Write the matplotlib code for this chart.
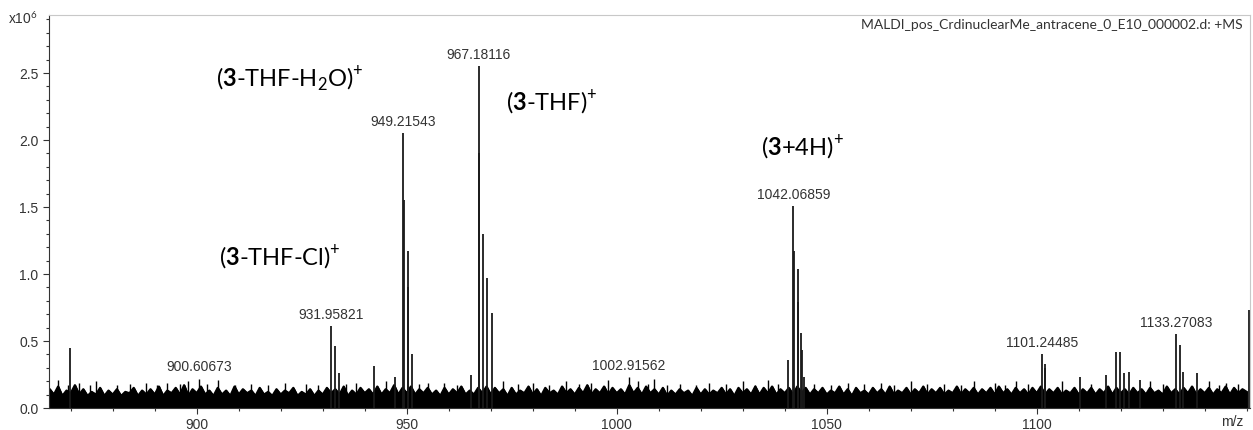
import matplotlib
matplotlib.use("Agg")
import matplotlib.pyplot as plt
from matplotlib.ticker import MultipleLocator
import numpy as np

# peak list (m/z, intensity in 1e6 counts)
peak_mz = [869.8, 931.96, 932.9, 933.8, 942.2, 947.2,
           949.22, 949.45, 950.2, 950.3, 951.2,
           965.4, 967.18, 967.3, 968.2, 969.2, 970.2,
           1040.9, 1042.07, 1042.2, 1043.1, 1043.2, 1044.0, 1044.1, 1044.6,
           1101.24, 1101.9, 1102.1, 1110.3, 1116.5, 1118.8, 1119.8, 1120.8,
           1121.9, 1124.6, 1133.27, 1134.2, 1134.9, 1138.2, 1150.6]
peak_int = [0.45, 0.61, 0.46, 0.26, 0.31, 0.23,
            2.05, 1.55, 1.17, 0.90, 0.40,
            0.25, 2.55, 1.90, 1.30, 0.97, 0.71,
            0.36, 1.51, 1.17, 1.04, 0.79, 0.56, 0.43, 0.23,
            0.40, 0.33, 0.30, 0.23, 0.25, 0.42, 0.42, 0.26,
            0.27, 0.21, 0.55, 0.47, 0.27, 0.26, 0.73]

# small spikes sticking out of the noise
spike_mz = [867, 869.3, 872, 874.5, 876, 881, 884, 888, 890.5, 893, 896, 898,
            900.61, 902.5, 905, 909, 913, 917, 921, 926, 929, 935.5, 938, 945,
            953, 955, 959, 962, 973, 976.5, 980, 984, 988, 991, 994, 998,
            1002.92, 1005, 1007.5, 1009, 1012, 1015, 1019, 1022, 1026, 1030,
            1033, 1036, 1038.5, 1047, 1051, 1055, 1059, 1063, 1066, 1070, 1074,
            1078, 1082, 1085, 1090, 1092.5, 1095, 1098, 1106, 1113, 1127, 1130,
            1141, 1143.5, 1145, 1148]
spike_int = [0.21, 0.17, 0.19, 0.17, 0.20, 0.17, 0.18, 0.19, 0.17, 0.19, 0.18, 0.20,
             0.22, 0.18, 0.21, 0.17, 0.18, 0.17, 0.19, 0.18, 0.17, 0.18, 0.19, 0.20,
             0.18, 0.19, 0.19, 0.17, 0.20, 0.18, 0.19, 0.17, 0.20, 0.18, 0.19, 0.21,
             0.23, 0.20, 0.18, 0.22, 0.17, 0.18, 0.17, 0.19, 0.18, 0.20,
             0.17, 0.21, 0.18, 0.18, 0.17, 0.19, 0.18, 0.19, 0.17, 0.20, 0.18,
             0.18, 0.17, 0.20, 0.19, 0.17, 0.20, 0.18, 0.20, 0.18, 0.20, 0.18,
             0.20, 0.17, 0.19, 0.18]

# noise floor, one value per m/z unit from 865 to 1150
noise_start = 865
noise_int = [
    0.14, 0.10, 0.16, 0.09, 0.13, 0.11, 0.17, 0.10, 0.14, 0.09, 0.12, 0.10, 0.15,
    0.09, 0.13, 0.10, 0.14, 0.09, 0.12, 0.11, 0.15, 0.09, 0.13, 0.10, 0.14, 0.10,
    0.16, 0.09, 0.13, 0.11, 0.15, 0.10, 0.17, 0.09, 0.14, 0.11, 0.16, 0.10, 0.13,
    0.09, 0.15, 0.10, 0.13, 0.09, 0.16, 0.10, 0.14, 0.11, 0.13, 0.09, 0.15, 0.10,
    0.12, 0.09, 0.14, 0.10, 0.13, 0.11, 0.15, 0.09, 0.12, 0.10, 0.14, 0.09, 0.13,
    0.10, 0.15, 0.11, 0.14, 0.10, 0.16, 0.09, 0.13, 0.10, 0.15, 0.11, 0.14, 0.10,
    0.16, 0.10, 0.14, 0.11, 0.17, 0.10, 0.15, 0.11, 0.16, 0.10, 0.14, 0.11, 0.15,
    0.10, 0.13, 0.09, 0.15, 0.10, 0.14, 0.11, 0.16, 0.10, 0.13, 0.10, 0.15, 0.11,
    0.16, 0.10, 0.15, 0.11, 0.14, 0.09, 0.15, 0.10, 0.13, 0.11, 0.16, 0.10, 0.14,
    0.09, 0.15, 0.11, 0.13, 0.10, 0.16, 0.11, 0.14, 0.10, 0.15, 0.11, 0.17, 0.10,
    0.14, 0.11, 0.16, 0.10, 0.15, 0.11, 0.14, 0.10, 0.17, 0.11, 0.15, 0.10, 0.16,
    0.11, 0.14, 0.10, 0.15, 0.09, 0.13, 0.10, 0.14, 0.11, 0.13, 0.09, 0.15, 0.10,
    0.14, 0.10, 0.13, 0.11, 0.15, 0.10, 0.14, 0.09, 0.15, 0.11, 0.14, 0.10, 0.16,
    0.10, 0.15, 0.11, 0.16, 0.10, 0.14, 0.11, 0.15, 0.10, 0.16, 0.11, 0.15, 0.10,
    0.14, 0.11, 0.15, 0.10, 0.13, 0.11, 0.16, 0.10, 0.14, 0.09, 0.15, 0.11, 0.13,
    0.10, 0.15, 0.11, 0.14, 0.10, 0.16, 0.10, 0.13, 0.11, 0.15, 0.10, 0.14, 0.11,
    0.16, 0.10, 0.14, 0.11, 0.15, 0.10, 0.13, 0.11, 0.16, 0.10, 0.14, 0.11, 0.15,
    0.10, 0.14, 0.11, 0.15, 0.10, 0.16, 0.11, 0.14, 0.10, 0.15, 0.11, 0.14, 0.10,
    0.15, 0.11, 0.16, 0.10, 0.14, 0.11, 0.15, 0.10, 0.13, 0.11, 0.15, 0.10, 0.14,
    0.11, 0.15, 0.10, 0.14, 0.11, 0.16, 0.10, 0.15, 0.11, 0.14, 0.10, 0.15, 0.11,
    0.14, 0.10, 0.15, 0.11, 0.13, 0.10, 0.16, 0.11, 0.14, 0.10, 0.15, 0.11, 0.16,
    0.10, 0.14, 0.11, 0.15, 0.10, 0.14, 0.11, 0.16, 0.10, 0.15, 0.11, 0.14, 0.12,
]

# peaks that carry an m/z label
label_mz = [900.60673, 931.95821, 949.21543, 967.18116, 1002.91562,
            1042.06859, 1101.24485, 1133.27083]

# species annotations (text, m/z, intensity of text centre)
species = [(r"($\mathbf{3}$-THF-H$_2$O)$^{+}$", 922.2, 2.45),
           (r"($\mathbf{3}$-THF)$^{+}$", 984.6, 2.28),
           (r"($\mathbf{3}$+4H)$^{+}$", 1044.1, 1.94),
           (r"($\mathbf{3}$-THF-Cl)$^{+}$", 919.8, 1.12)]

title = "MALDI_pos_CrdinuclearMe_antracene_0_E10_000002.d: +MS"

plt.rcParams["font.family"] = ["Liberation Sans", "DejaVu Sans"]
plt.rcParams["mathtext.fontset"] = "custom"
plt.rcParams["mathtext.rm"] = "Lato"
plt.rcParams["mathtext.bf"] = "Lato:bold"

fig = plt.figure(figsize=(12.53, 4.30), dpi=100)
ax = fig.add_axes([49 / 1253, 1 - 408 / 430, (1250 - 49) / 1253, (408 - 15) / 430])

noise_mz = np.arange(noise_start, noise_start + len(noise_int))
ax.fill_between(noise_mz, 0, noise_int, color="black", linewidth=1.2)
ax.plot(noise_mz, noise_int, color="black", linewidth=1.6)
ax.vlines(spike_mz, 0, spike_int, color="black", linewidth=1.0)
ax.vlines(peak_mz, 0, peak_int, color="#1a1a1a", linewidth=1.3)

all_mz = peak_mz + spike_mz
all_int = peak_int + spike_int
for mz in label_mz:
    i = int(np.argmin(np.abs(np.array(all_mz) - mz)))
    ax.annotate(f"{mz:.5f}", (all_mz[i], all_int[i]), xytext=(0, 3),
                textcoords="offset points", ha="center", va="bottom",
                fontsize=10, color="#333333")

for text, x, y in species:
    ax.text(x, y, text, ha="center", va="center", fontsize=17, color="black",
            family="Lato")

ax.set_xlim(864.83, 1150.8)
ax.set_ylim(0, 2.933)
ax.xaxis.set_minor_locator(MultipleLocator(10))
ax.yaxis.set_minor_locator(MultipleLocator(0.1))
ax.set_xticks([900, 950, 1000, 1050, 1100])
ax.set_yticks([0.0, 0.5, 1.0, 1.5, 2.0, 2.5])
ax.set_yticklabels(["0.0", "0.5", "1.0", "1.5", "2.0", "2.5"])
ax.tick_params(which="both", direction="out", colors="#333333", labelsize=10,
               width=0.8)
ax.tick_params(which="major", length=4)
ax.tick_params(which="minor", length=2.5)
for side in ["left", "bottom"]:
    ax.spines[side].set_color("#333333")
for side in ["top", "right"]:
    ax.spines[side].set_color("#c8c8c8")

fig.text(1232 / 1253, 1 - 422 / 430, "m/z", ha="center", va="center",
         fontsize=10, color="#333333")
fig.text(8 / 1253, 1 - 19 / 430, r"x10$^{6}$", ha="left", va="center",
         fontsize=10, color="#333333")
fig.text(1243 / 1253, 1 - 25 / 430, title, ha="right", va="center",
         fontsize=10, color="#333333", family="Lato")

fig.savefig("out.png", dpi=100)
